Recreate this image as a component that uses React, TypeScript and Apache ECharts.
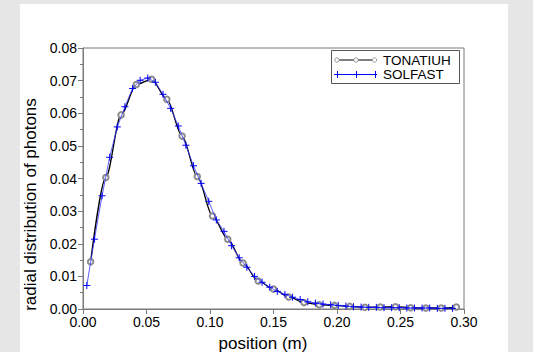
import React, { useEffect, useRef } from "react";
import * as echarts from "echarts";

// TONATIUH: x = 0.006 + 0.012*k
const tonX = [0.006, 0.018, 0.030, 0.042, 0.054, 0.066, 0.078, 0.090, 0.102, 0.114, 0.126, 0.138, 0.150, 0.162, 0.174, 0.186, 0.198, 0.210, 0.222, 0.234, 0.246, 0.258, 0.270, 0.282, 0.294];
const tonY = [0.0145, 0.0403, 0.0595, 0.0688, 0.0704, 0.0643, 0.0530, 0.0406, 0.0285, 0.0214, 0.0141, 0.0086, 0.0061, 0.0037, 0.0020, 0.0013, 0.0011, 0.0008, 0.0005, 0.0006, 0.0007, 0.0004, 0.0003, 0.0003, 0.0006];

// SOLFAST: x = 0.003 + 0.006*k
const solX = [0.003, 0.009, 0.015, 0.021, 0.027, 0.033, 0.039, 0.045, 0.051, 0.057, 0.063, 0.069, 0.075, 0.081, 0.087, 0.093, 0.099, 0.105, 0.111, 0.117, 0.123, 0.129, 0.135, 0.141, 0.147, 0.153, 0.159, 0.165, 0.171, 0.177, 0.183, 0.189, 0.195, 0.201, 0.207, 0.213, 0.219, 0.225, 0.231, 0.237, 0.243, 0.249, 0.255, 0.261, 0.267, 0.273, 0.279, 0.285, 0.291];
const solY = [0.0072, 0.0214, 0.0347, 0.0465, 0.0558, 0.0620, 0.0676, 0.0701, 0.0708, 0.0695, 0.0658, 0.0615, 0.0561, 0.0502, 0.0439, 0.0385, 0.0330, 0.0273, 0.0238, 0.0194, 0.0157, 0.0128, 0.0100, 0.0082, 0.0067, 0.0054, 0.0045, 0.0036, 0.0029, 0.0022, 0.0018, 0.0015, 0.0013, 0.0011, 0.0009, 0.0007, 0.0006, 0.0005, 0.0005, 0.0004, 0.0004, 0.0004, 0.0003, 0.0003, 0.0003, 0.0003, 0.0002, 0.0002, 0.0002];

const seriesNames = ["TONATIUH", "SOLFAST"];

export default function App() {
  const ref = useRef<HTMLDivElement>(null);
  useEffect(() => {
    if (!ref.current) return;
    const chart = echarts.init(ref.current, undefined, { renderer: "svg" });
    const font = "Liberation Sans, Arial, sans-serif";
    const plus = "path://M5,0L5,10M0,5L10,5";
    const lx0 = 331, ly0 = 50;
    chart.setOption({
      animation: false,
      textStyle: { fontFamily: font },
      grid: { left: 83, top: 48, right: 69, bottom: 43, outerBoundsMode: "none", containLabel: false, show: true, borderColor: "#7a7a7a", borderWidth: 1, backgroundColor: "transparent" },
      xAxis: {
        type: "value", min: 0, max: 0.3, interval: 0.05,
        name: "position (m)", nameLocation: "middle", nameGap: 26,
        nameTextStyle: { fontSize: 17, color: "#000", fontFamily: font, padding: [0, 21, 0, 0] },
        axisLine: { lineStyle: { color: "#7a7a7a" } },
        axisTick: { show: true, inside: false, length: 5, lineStyle: { color: "#7a7a7a" } },
        axisLabel: { fontSize: 14, color: "#000", margin: 6, formatter: (v: number) => v.toFixed(2) },
        splitLine: { show: false },
      },
      yAxis: {
        type: "value", min: 0, max: 0.08, interval: 0.01,
        name: "radial distribution of photons", nameLocation: "middle", nameGap: 33,
        nameTextStyle: { fontSize: 17, color: "#000", fontFamily: font, padding: [0, 52, 0, 0] },
        axisLine: { show: true, lineStyle: { color: "#7a7a7a" } },
        axisTick: { show: true, inside: false, length: 5, lineStyle: { color: "#7a7a7a" } },
        minorTick: { show: true, splitNumber: 2, length: 3, lineStyle: { color: "#7a7a7a" } },
        axisLabel: { fontSize: 14, color: "#000", margin: 6, formatter: (v: number) => v.toFixed(2) },
        splitLine: { show: false },
      },
      series: [
        {
          name: seriesNames[0], type: "line",
          data: tonX.map((x, i) => [x, tonY[i]]),
          smooth: 0.3, smoothMonotone: "x",
          symbol: "emptyCircle", symbolSize: 5.5,
          lineStyle: { color: "#000", width: 1.3 },
          itemStyle: { color: "#8c8c8c", borderColor: "#8c8c8c", borderWidth: 0.9 },
          z: 2,
        },
        {
          name: seriesNames[1], type: "line",
          data: solX.map((x, i) => [x, solY[i]]),
          symbol: plus, symbolSize: 7,
          lineStyle: { color: "#3333ff", width: 0.8 },
          itemStyle: { color: "#0000ff", borderColor: "#0000ff", borderWidth: 1 },
          z: 3,
        },
      ],
      graphic: [
        { type: "rect", z: 100, shape: { x: lx0 + 0.5, y: ly0 + 0.5, width: 128, height: 33 }, style: { fill: "#fff", stroke: "#555", lineWidth: 1 } },
        { type: "line", z: 101, shape: { x1: 339, y1: 60, x2: 354, y2: 60 }, style: { stroke: "#000", lineWidth: 1 } },
        { type: "line", z: 101, shape: { x1: 358, y1: 60, x2: 372, y2: 60 }, style: { stroke: "#000", lineWidth: 1 } },
        { type: "circle", z: 102, shape: { cx: 337, cy: 60, r: 2.2 }, style: { fill: "#fff", stroke: "#8c8c8c", lineWidth: 0.9 } },
        { type: "circle", z: 102, shape: { cx: 356, cy: 60, r: 2.2 }, style: { fill: "#fff", stroke: "#8c8c8c", lineWidth: 0.9 } },
        { type: "circle", z: 102, shape: { cx: 374.5, cy: 60, r: 2.2 }, style: { fill: "#fff", stroke: "#8c8c8c", lineWidth: 0.9 } },
        { type: "text", z: 102, x: 383, y: 60, style: { text: seriesNames[0], fill: "#000", fontSize: 13.5, fontFamily: font, verticalAlign: "middle" } },
        { type: "line", z: 101, shape: { x1: 334, y1: 74.5, x2: 377, y2: 74.5 }, style: { stroke: "#0000ff", lineWidth: 1 } },
        { type: "line", z: 101, shape: { x1: 337.5, y1: 71, x2: 337.5, y2: 78 }, style: { stroke: "#0000ff", lineWidth: 1 } },
        { type: "line", z: 101, shape: { x1: 356.5, y1: 71, x2: 356.5, y2: 78 }, style: { stroke: "#0000ff", lineWidth: 1 } },
        { type: "line", z: 101, shape: { x1: 375.5, y1: 71, x2: 375.5, y2: 78 }, style: { stroke: "#0000ff", lineWidth: 1 } },
        { type: "text", z: 102, x: 383, y: 74, style: { text: seriesNames[1], fill: "#000", fontSize: 13.5, fontFamily: font, verticalAlign: "middle" } },
      ],
    });
    return () => chart.dispose();
  }, []);
  return (
    <div style={{ position: "fixed", left: 0, top: 0, width: 533, height: 352, background: "#e6e6e6", overflow: "hidden" }}>
      <div style={{ position: "absolute", left: 20, top: 4, width: 488, height: 348, background: "#fff" }} />
      <div ref={ref} style={{ position: "absolute", left: 0, top: 0, width: 533, height: 352 }} />
    </div>
  );
}
